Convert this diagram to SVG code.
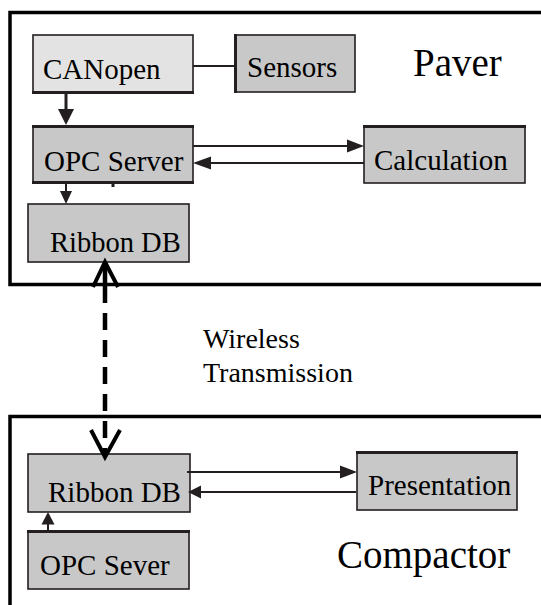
<svg xmlns="http://www.w3.org/2000/svg" width="541" height="605" viewBox="0 0 541 605">
<defs>
<style>
.frame{fill:none;stroke:#000;stroke-width:3.5}
.box{fill:#c8c8c8;stroke:#231f20;stroke-width:1.6}
.light{fill:#e3e3e3}
.edge{stroke:#231f20;stroke-width:3;fill:none}
.t{font-family:"Liberation Serif","Times New Roman",serif;fill:#000;font-size:29px}
.big{font-size:39px}
.mid{font-size:28px}
.ln{stroke:#231f20;stroke-width:2;fill:none}
.ah{fill:#231f20}
</style>
</defs>
<rect width="541" height="605" fill="#fff"/>
<g id="paver-frame">
<path class="frame" d="M560,12.5 H10 V284.5 H560"/>
<text class="t big" x="413" y="76">Paver</text>
</g>
<g id="compactor-frame">
<path class="frame" d="M560,416.5 H10 V620"/>
<text class="t big" x="337" y="568">Compactor</text>
</g>
<g id="canopen">
<rect class="box light" x="33" y="35" width="160" height="58"/>
<line class="edge" x1="32" y1="92.5" x2="194" y2="92.5"/>
<text class="t" x="43" y="79">CANopen</text>
</g>
<g id="sensors">
<rect class="box" x="235" y="35" width="120" height="57"/>
<line class="edge" x1="235.5" y1="34" x2="235.5" y2="93"/>
<text class="t" x="247" y="77">Sensors</text>
</g>
<g id="opc-server">
<rect class="box" x="33" y="126" width="160" height="57"/>
<line class="edge" x1="32" y1="126.5" x2="194" y2="126.5"/>
<line class="edge" x1="32" y1="182.5" x2="194" y2="182.5"/>
<line class="edge" x1="113" y1="182" x2="113" y2="187"/>
<text class="t" x="44" y="171">OPC Server</text>
</g>
<g id="calculation">
<rect class="box" x="364" y="126" width="161" height="57"/>
<line class="edge" x1="363" y1="126.5" x2="526" y2="126.5"/>
<text class="t" x="374" y="170">Calculation</text>
</g>
<g id="ribbon-db-paver">
<rect class="box" x="28" y="204" width="161" height="58"/>
<text class="t" x="50" y="252" style="font-size:28.5px">Ribbon DB</text>
</g>
<g id="wireless-label">
<text class="t mid" x="203" y="348">Wireless</text>
<text class="t mid" x="203" y="382">Transmission</text>
</g>
<g id="ribbon-db-compactor">
<rect class="box" x="28" y="454" width="162" height="58"/>
<text class="t" x="48" y="502">Ribbon DB</text>
</g>
<g id="presentation">
<rect class="box" x="357" y="452" width="160" height="58"/>
<line class="edge" x1="356" y1="452.5" x2="518" y2="452.5"/>
<text class="t" x="368" y="495">Presentation</text>
</g>
<g id="opc-sever">
<rect class="box" x="28" y="531" width="161" height="58"/>
<line class="edge" x1="27" y1="531.5" x2="190" y2="531.5"/>
<text class="t" x="40" y="575">OPC Sever</text>
</g>
<g id="connectors">
<line class="ln" x1="193" y1="66" x2="235" y2="66"/>
<line class="ln" x1="66" y1="93" x2="66" y2="110" style="stroke-width:3"/>
<polygon class="ah" points="58,109 74,109 66,125"/>
<line class="ln" x1="66" y1="183" x2="66" y2="192"/>
<polygon class="ah" points="60,191 72,191 66,204"/>
<line class="ln" x1="193" y1="146" x2="348" y2="146"/>
<polygon class="ah" points="347,139.5 364,146 347,152.5"/>
<line class="ln" x1="210" y1="163" x2="364" y2="163"/>
<polygon class="ah" points="211,156.5 193,163 211,169.5"/>
<line class="ln" x1="187" y1="472" x2="341" y2="472"/>
<polygon class="ah" points="340,465.5 357,472 340,478.5"/>
<line class="ln" x1="200" y1="492" x2="356" y2="492"/>
<polygon class="ah" points="201,485.5 188,492 201,498.5"/>
<line class="ln" x1="48" y1="524" x2="48" y2="531"/>
<polygon class="ah" points="41.5,524.5 54.5,524.5 48,512"/>
<line x1="105" y1="265" x2="105" y2="455" stroke="#000" stroke-width="4.5" stroke-dasharray="38 10 17 10 17 10 17 10 17 10 17 10 17 10 40"/>
<polyline points="93,287 105,262 118,287" fill="none" stroke="#000" stroke-width="4"/>
<polyline points="91,430 105,457 120,430" fill="none" stroke="#000" stroke-width="4"/>
</g>
</svg>
